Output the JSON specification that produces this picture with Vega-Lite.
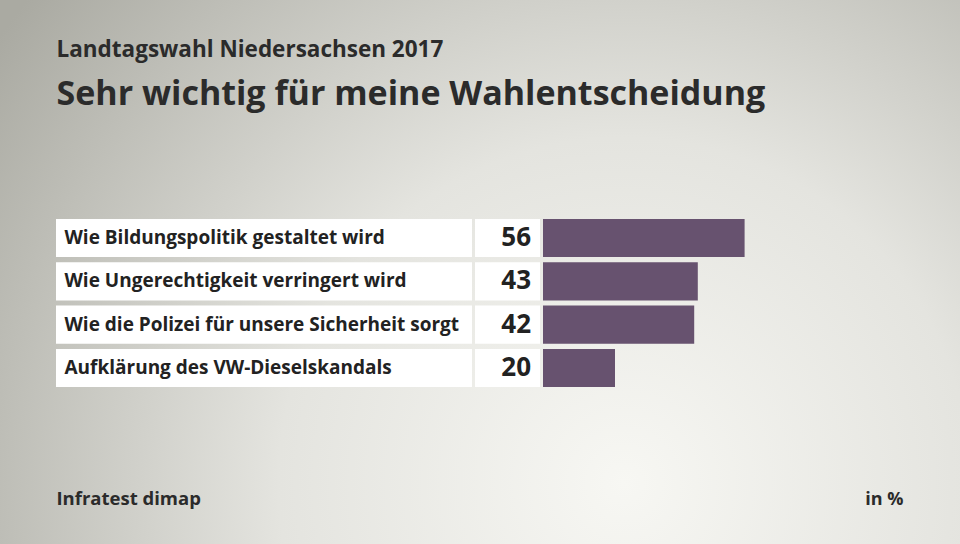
{
  "$schema": "https://vega.github.io/schema/vega-lite/v6.json",
  "width": 960,
  "height": 544,
  "autosize": {"type": "none"},
  "padding": 0,
  "background": "#d8d8d2",
  "view": {
    "stroke": null,
    "fill": {
      "gradient": "radial",
      "x1": 0.65, "y1": 0.72, "r1": 0,
      "x2": 0.65, "y2": 0.72, "r2": 0.8,
      "stops": [
        {"offset": 0, "color": "#f7f7f3"},
        {"offset": 0.45, "color": "#e4e4df"},
        {"offset": 1, "color": "#aaaaa2"}
      ]
    }
  },
  "data": {
    "values": [
      {"item": "Wie Bildungspolitik  gestaltet wird", "v": 56},
      {"item": "Wie Ungerechtigkeit  verringert wird", "v": 43},
      {"item": "Wie die Polizei für unsere Sicherheit sorgt", "v": 42},
      {"item": "Aufklärung des VW-Dieselskandals", "v": 20}
    ]
  },
  "config": {
    "font": "Open Sans",
    "axis": {"domain": false, "ticks": false, "grid": false, "titleColor": "#2b2b2b", "titleFont": "Open Sans", "titleFontWeight": "bold"}
  },
  "resolve": {"axis": {"x": "independent", "y": "independent"}},
  "layer": [
    {
      "mark": {"type": "bar", "color": "white"},
      "encoding": {
        "y": {
          "field": "item", "type": "nominal", "sort": null,
          "scale": {"range": [219, 387], "paddingInner": 0.12, "paddingOuter": 0},
          "axis": {
            "orient": "left",
            "zindex": 2,
            "labelAlign": "left",
            "labelPadding": -64,
            "labelLimit": 0,
            "labelFont": "Open Sans",
            "labelFontSize": 19,
            "labelFontWeight": "bold",
            "labelColor": "#222222",
            "labelBaseline": "middle",
            "title": "Sehr wichtig für meine Wahlentscheidung",
            "titleAngle": 0,
            "titleAlign": "left",
            "titleBaseline": "alphabetic",
            "titleX": 56,
            "titleY": 104,
            "titleFontSize": 34
          }
        },
        "x": {"value": 56},
        "x2": {"value": 472}
      }
    },
    {
      "mark": {"type": "bar", "color": "white"},
      "encoding": {
        "y": {
          "field": "item", "type": "nominal", "sort": null,
          "axis": {
            "orient": "right",
            "labels": false,
            "title": "in %",
            "titleAngle": 0,
            "titleAlign": "right",
            "titleBaseline": "alphabetic",
            "titleX": -57,
            "titleY": 504,
            "titleFontSize": 18
          }
        },
        "x": {"value": 475},
        "x2": {"value": 540}
      }
    },
    {
      "mark": {"type": "bar", "color": "#67526f"},
      "encoding": {
        "y": {"field": "item", "type": "nominal", "sort": null, "axis": null},
        "x": {
          "field": "v", "type": "quantitative",
          "scale": {"domain": [0, 100], "range": [543, 903], "nice": false},
          "axis": {
            "orient": "bottom",
            "labels": false,
            "title": "Infratest dimap",
            "titleAlign": "left",
            "titleBaseline": "alphabetic",
            "titleX": 56,
            "titleY": -40,
            "titleFontSize": 18.5
          }
        }
      }
    },
    {
      "mark": {"type": "text", "align": "right", "baseline": "middle", "dx": -12, "fontSize": 26, "fontWeight": "bold", "color": "#222222"},
      "encoding": {
        "y": {"field": "item", "type": "nominal", "sort": null, "axis": null},
        "x": {
          "datum": 0, "type": "quantitative",
          "axis": {
            "orient": "top",
            "labels": false,
            "title": "Landtagswahl Niedersachsen 2017",
            "titleAlign": "left",
            "titleBaseline": "alphabetic",
            "titleX": 56,
            "titleY": 56,
            "titleFontSize": 22.5
          }
        },
        "text": {"field": "v", "type": "quantitative"}
      }
    }
  ]
}
